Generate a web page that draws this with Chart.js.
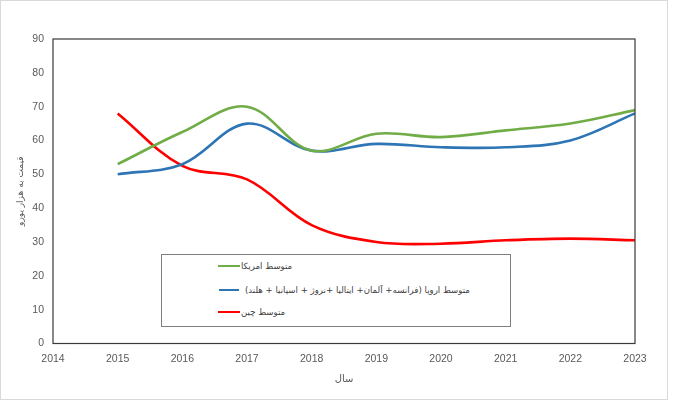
<!DOCTYPE html>
<html>
<head>
<meta charset="utf-8">
<script src="https://cdn.jsdelivr.net/npm/chart.js@4"></script>
<style>
  html, body { margin:0; padding:0; background:#fff; }
  #wrap { position:relative; width:674px; height:403px; }
  canvas { position:absolute; left:0; top:0; }
  #legend { position:absolute; left:161px; top:254px; width:348px; height:71px; border:1px solid #7f7f7f; background:#fff; }
  .ln { position:absolute; height:2.5px; }
  .tx { position:absolute; white-space:nowrap; font-family:"DejaVu Sans", sans-serif; font-size:8.6px; color:#404040; line-height:12px; }
</style>
</head>
<body>
<div id="wrap">
  <canvas id="c" width="674" height="403"></canvas>
  <div id="legend"></div>
</div>
<script>
const years = [2015, 2016, 2017, 2018, 2019, 2020, 2021, 2022, 2023];
const usa = [53, 62.5, 70, 57, 62, 61, 63, 65, 69];
const europe = [50, 53, 65, 57, 59, 58, 58, 60, 68];
const china = [68, 52.5, 48.5, 35, 30, 29.5, 30.5, 31, 30.5];
const seriesNames = ["متوسط امریکا", "متوسط اروپا (فرانسه+ آلمان+ ایتالیا +نروژ + اسپانیا + هلند)", "متوسط چین"];
const seriesColors = ["#70AD47", "#2E75B6", "#FF0000"];
const yTitle = "قیمت به هزار یورو";
const xTitle = "سال";

const toPts = arr => arr.map((v, i) => ({x: years[i], y: v}));

const frame = {
  id: 'frame',
  afterDraw(chart) {
    const {ctx, chartArea: a} = chart;
    ctx.save();
    ctx.strokeStyle = '#3a3a3a';
    ctx.lineWidth = 1.2;
    ctx.strokeRect(a.left, a.top, a.right - a.left, a.bottom - a.top);
    ctx.strokeStyle = '#d9d9d9';
    ctx.lineWidth = 1;
    ctx.strokeRect(0.5, 0.5, 667, 399);
    ctx.restore();
  }
};

const series = [usa, europe, china];
new Chart(document.getElementById('c'), {
  type: 'line',
  data: {
    datasets: series.map((s, i) => ({
      label: seriesNames[i],
      data: toPts(s),
      borderColor: seriesColors[i],
      borderWidth: 2.6,
      pointRadius: 0,
      tension: 0.36,
      fill: false
    }))
  },
  options: {
    responsive: false,
    animation: false,
    layout: { padding: { left: 0, right: 39, top: 39, bottom: 0 } },
    plugins: { legend: { display: false }, tooltip: { enabled: false } },
    scales: {
      x: {
        type: 'linear', min: 2014, max: 2023,
        afterFit(s) { s.height = 59.5; },
        grid: { display: false, drawTicks: false },
        border: { display: false },
        ticks: { stepSize: 1, padding: 9, color: '#595959', font: { family: 'Liberation Sans', size: 10.5 }, callback: v => String(v) },
        title: { display: true, text: xTitle, color: '#595959', font: { family: 'DejaVu Sans', size: 10 }, padding: { top: 0, bottom: 18 } }
      },
      y: {
        min: 0, max: 90,
        afterFit(s) { s.width = 53; },
        grid: { display: false, drawTicks: false },
        border: { display: false },
        ticks: { stepSize: 10, padding: 9, color: '#595959', font: { family: 'Liberation Sans', size: 10.5 } },
        title: { display: true, text: yTitle, color: '#595959', font: { family: 'DejaVu Sans', size: 9 }, padding: { top: 15, bottom: 0 } }
      }
    }
  },
  plugins: [frame]
});

// legend overlay (inside plot area, as in reference)
const leg = document.getElementById('legend');
const rows = [
  {y: 266, l1: 218, l2: 240, tx: 241},
  {y: 290, l1: 219, l2: 239, tx: 245},
  {y: 312, l1: 218, l2: 240, tx: 241}
];
rows.forEach((r, i) => {
  const ln = document.createElement('div');
  ln.className = 'ln';
  ln.style.left = (r.l1 - 162) + 'px';
  ln.style.width = (r.l2 - r.l1) + 'px';
  ln.style.top = (r.y - 255 - 1.25) + 'px';
  ln.style.background = seriesColors[i];
  leg.appendChild(ln);
  const t = document.createElement('span');
  t.className = 'tx';
  t.dir = 'rtl';
  t.textContent = seriesNames[i];
  t.style.left = (r.tx - 162) + 'px';
  t.style.top = (r.y - 255 - 6) + 'px';
  leg.appendChild(t);
});
</script>
</body>
</html>
